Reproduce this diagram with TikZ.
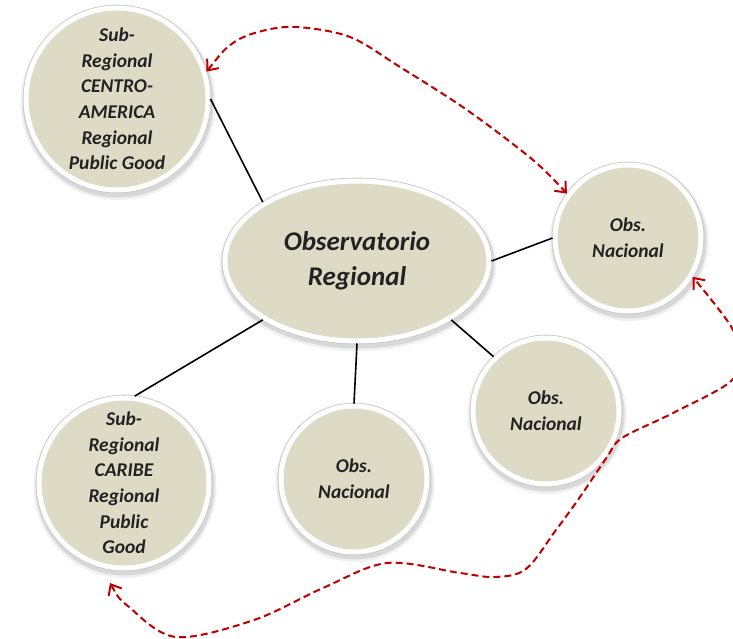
\documentclass[tikz,border=0pt]{standalone}
\usepackage{fontspec}
\setmainfont{Carlito}
\usetikzlibrary{shapes.geometric,arrows.meta}
\definecolor{beige}{HTML}{DDDBC6}
\definecolor{txtc}{HTML}{222222}
\definecolor{dred}{HTML}{C00000}
\begin{document}
\begin{tikzpicture}[x=1pt,y=-1pt,
  shadowed/.style={
    preaction={draw=black, draw opacity=0.06, line width=13pt, transform canvas={xshift=1pt,yshift=-3.5pt}},
    preaction={draw=black, draw opacity=0.10, line width=9pt, transform canvas={xshift=1pt,yshift=-3pt}},
    preaction={draw=black!22, line width=6.6pt}},
  bubble/.style={circle, inner sep=0pt, shadowed, fill=beige, draw=white, line width=5pt,
    text=txtc, font=\fontsize{19.5}{25.6}\selectfont\bfseries\itshape, align=center},
  hub/.style={ellipse, inner sep=0pt, shadowed, fill=beige, draw=white, line width=5pt,
    minimum width=264pt, minimum height=160pt,
    text=txtc, font=\fontsize{27}{35}\selectfont\bfseries\itshape, align=center},
  link/.style={draw=black, line width=1.6pt},
  redarrow/.style={draw=dred, line width=2pt, dash pattern=on 7pt off 4pt,
    {Straight Barb[length=9pt,width=15pt,line width=2pt]}-{Straight Barb[length=9pt,width=15pt,line width=2pt]}}
]
\useasboundingbox (0,0) rectangle (733,639);

\node[hub] (e) at (357,261) {Observatorio\\Regional};
\node[bubble, minimum size=182pt] (tl) at (117,99) {Sub-\\Regional\\CENTRO-\\AMERICA\\Regional\\Public Good};
\node[bubble, minimum size=146pt] (rc) at (628,238) {Obs.\\Nacional};
\node[bubble, minimum size=146pt] (mr) at (546,411) {Obs.\\Nacional};
\node[bubble, minimum size=146pt] (bm) at (354,479) {Obs.\\Nacional};
\node[bubble, minimum size=170pt] (car) at (124,483) {Sub-\\Regional\\CARIBE\\Regional\\Public\\Good};

\draw[link] (tl.0) -- (e.148);
\draw[link] (e.0) -- (rc.180);
\draw[link] (e.-32) -- (mr.134);
\draw[link] (e.-90) -- (bm.90);
\draw[link] (e.212) -- (car.83);

\coordinate (cb) at (110,583);
\draw[redarrow] plot[smooth, tension=0.55] coordinates {(tl.17) (233,43) (262,31) (297,27) (350,37) (400,67) (467,110) (533,160) (rc.144)};
\draw[redarrow] plot[smooth, tension=0.55] coordinates {(cb) (129,607) (176,637) (254,620) (323,588) (387,563) (460,573) (495,577) (526,569) (556,530) (580,497) (607,457) (622,438) (673,413) (730,382) (741,355) (733,330) (717,307) (rc.-31)};
\end{tikzpicture}
\end{document}
